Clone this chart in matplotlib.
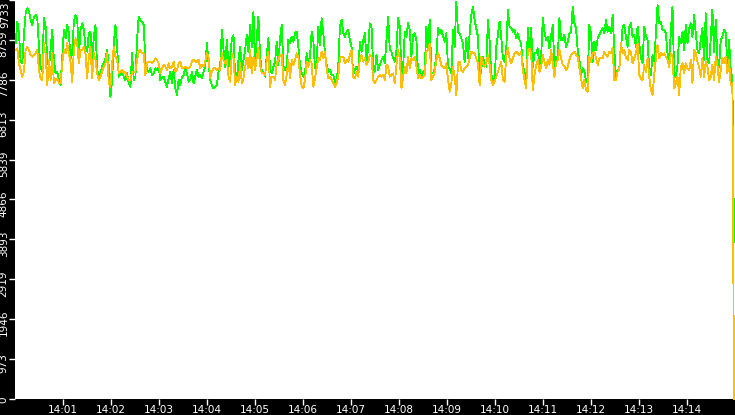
import matplotlib
matplotlib.use("Agg")
import matplotlib.pyplot as plt
import matplotlib.dates as mdates
import matplotlib.transforms as mtransforms
import numpy as np
import datetime as dt

# ---- data ----
start_time = dt.datetime(2024, 1, 1, 14, 0, 0)
end_time = dt.datetime(2024, 1, 1, 14, 15, 0)
sample_step_s = 2.0786
first_offset_s = 0.83

green_values = [
    8676, 9205, 8920, 8229, 8188, 8920, 9408, 9530, 9448, 9245, 9123, 9326, 9367, 9286, 8595, 8107, 7985, 9286, 9083, 8270, 8107, 8514, 9001, 8270, 7944, 7985, 7782, 7660, 8351, 9001, 8798, 9123, 8920, 8310, 8432, 9205, 9367, 9286, 8351, 9001, 9164, 9001, 8595, 8473, 8920, 8961, 8229, 8839, 9123, 8026, 7863, 7944, 8107, 8188, 8310, 8514, 8107, 7375, 7782, 8676, 9123, 8595, 7863, 7904, 7985, 7863, 7782, 7944, 7701, 7619, 8432, 7782, 7863,
    8757, 9326, 9245, 9205, 9123, 8229, 8026, 7985, 8066, 7904, 7944, 8066, 8026, 8107, 7782, 7822, 7863, 7741, 7619, 7822, 7985, 7701, 8026, 7579, 7416, 7782, 7660, 7863, 7904, 8066, 7944, 7741, 7782, 7985, 7701, 7863, 8026, 7863, 7904, 7822, 7985, 8107, 8676, 8188, 7782, 7660, 7579, 7619, 7660, 7985, 8107, 9001, 8514, 8107, 8757, 8107, 8270, 8798, 8879, 7822, 7782, 8270, 8595, 8026, 8270, 8514, 8879, 8473, 9123, 8595, 9448, 8107,
    8839, 9326, 8351, 7985, 7985, 7863, 8392, 8798, 8026, 7944, 8107, 8229, 8717, 8148, 8798, 9123, 8107, 8026, 8107, 8757, 8676, 8839, 8717, 8920, 8961, 8595, 8148, 7944, 7863, 7944, 8432, 8188, 8351, 8961, 8757, 8066, 8188, 9083, 8635, 9286, 8920, 8432, 8148, 7985, 8026, 7904, 7904, 7741, 7782, 8107, 9083, 9245, 8920, 8839, 8961, 9001, 8757, 8595, 7904, 8026, 8107, 7985, 8717, 8473, 8757, 8920, 8270, 8554, 9164, 9083, 8107, 7985,
    8392, 8026, 8148, 8270, 8351, 8188, 8757, 9326, 8514, 8473, 8310, 8229, 8514, 9286, 9083, 7944, 8066, 8961, 8839, 9164, 9001, 8351, 8879, 8920, 8757, 7944, 8026, 7863, 7985, 8026, 9083, 8595, 9245, 7944, 7944, 8066, 8392, 9042, 8920, 9001, 8839, 8717, 8920, 8107, 8066, 7944, 9001, 8595, 9692, 8961, 8920, 8798, 8676, 8229, 8798, 8310, 8920, 9367, 9570, 9245, 9042, 8839, 7782, 8066, 8351, 8148, 8107, 9245, 8757, 7904, 7782, 7782,
    8595, 8879, 9205, 8839, 8310, 8229, 8514, 9489, 9083, 9042, 8961, 9001, 8798, 8920, 8757, 8676, 8107, 7985, 7741, 9042, 8514, 9042, 8107, 8432, 8432, 8554, 8107, 8351, 9286, 8961, 8757, 8839, 8554, 8879, 9123, 8107, 8351, 8310, 9286, 8757, 8757, 8879, 8595, 8717, 8920, 8961, 9570, 9164, 9042, 8514, 8270, 7904, 8066, 7985, 7741, 7822, 9123, 8920, 8229, 8717, 8514, 8798, 8879, 8961, 9042, 8920, 9245, 8961, 9083, 8920, 9367, 8514,
    7863, 8026, 8066, 8554, 9083, 9123, 8839, 8595, 9083, 9164, 8839, 8879, 8595, 9083, 8676, 8310, 8188, 9083, 8839, 8757, 8026, 7904, 8392, 8229, 8920, 9611, 9164, 9205, 9001, 9001, 8920, 8432, 8188, 8961, 9570, 7904, 7863, 8148, 8839, 8676, 8961, 8514, 9123, 8676, 9042, 9164, 8839, 9367, 8920, 8514, 8432, 8757, 9042, 8270, 9408, 8270, 8188, 8798, 9489, 8473, 9245, 8310, 8107, 8757, 8839, 9001, 8920, 8148, 8757, 8026, 7822,
    3830,
]

orange_values = [
    8514, 8554, 8188, 8026, 7863, 7985, 8514, 8595, 8514, 8392, 8351, 8392, 8432, 8514, 8026, 7822, 7782, 8676, 8432, 7660, 8270, 7782, 8432, 7701, 7782, 7822, 7701, 7701, 8188, 8514, 8432, 8676, 8432, 8229, 7741, 8514, 8798, 8676, 8188, 8514, 8514, 8595, 8432, 7822, 8351, 8595, 7822, 8432, 8270, 7944, 7782, 7863, 7985, 8107, 8188, 8432, 7701, 7619, 8188, 8595, 8351, 8270, 7944, 7985, 8026, 7944, 7985, 7863, 7782, 7782, 7985, 7985, 7985,
    8270, 8473, 8514, 8432, 8432, 7904, 8188, 8229, 8229, 8188, 8229, 8310, 8270, 8188, 7944, 8066, 8148, 8107, 8026, 8188, 8066, 8107, 8229, 7985, 8026, 8188, 8229, 8066, 8066, 8107, 8066, 8066, 8107, 8229, 8270, 8229, 8229, 8270, 8066, 8148, 8107, 8229, 8432, 8351, 7822, 7985, 8066, 8066, 8026, 8066, 8026, 8432, 8270, 8188, 8270, 7863, 7741, 8432, 8351, 7660, 7863, 7741, 8188, 7701, 7822, 8107, 8310, 8066, 8514, 7944, 8351, 8026,
    8351, 8554, 8148, 7944, 7944, 7904, 8270, 8473, 7619, 7863, 7863, 7782, 8188, 8270, 8392, 8392, 7782, 7660, 7904, 8270, 7822, 8270, 8148, 8270, 8432, 8351, 7904, 7619, 7579, 7782, 8229, 8107, 8270, 8188, 7619, 7822, 8066, 8310, 8270, 8473, 8310, 8473, 8066, 7822, 7863, 7782, 7701, 7619, 7701, 7863, 8310, 8351, 8351, 8188, 8270, 8229, 8392, 8514, 7863, 7822, 7985, 7863, 8310, 8392, 8229, 8310, 8148, 8229, 8392, 8351, 7782, 7701,
    7782, 7863, 7904, 7863, 7904, 7782, 8148, 8107, 7863, 7904, 7944, 7701, 8148, 8514, 8310, 7579, 7863, 8107, 7944, 8351, 8066, 8310, 8270, 8351, 8107, 7822, 7904, 7822, 7863, 7904, 8473, 8514, 8676, 7782, 7863, 7985, 8270, 8432, 8310, 8148, 8107, 8066, 8188, 7782, 7497, 7701, 8107, 7863, 7416, 8188, 8229, 8026, 7985, 8066, 8107, 8148, 8310, 8473, 8432, 8432, 8310, 8188, 7660, 8351, 8188, 8107, 8188, 8392, 8148, 7782, 7660, 7741,
    7863, 7985, 8107, 8229, 7782, 7741, 8351, 8554, 8310, 8188, 8310, 8432, 8473, 8432, 8392, 8473, 8026, 7782, 7579, 8514, 8554, 8432, 7538, 7904, 8148, 8270, 7985, 8107, 8392, 8229, 8066, 8270, 8148, 8514, 8188, 7863, 8229, 8270, 8514, 8310, 8148, 8107, 8026, 8107, 8270, 8392, 8432, 8473, 8392, 8351, 8066, 7822, 7579, 7782, 7538, 7497, 8351, 8229, 8432, 8473, 8310, 8148, 8310, 8310, 8310, 8473, 8392, 8351, 8473, 8432, 8554, 7782,
    7782, 7985, 8026, 8676, 8432, 8514, 8310, 8270, 8514, 8473, 8188, 8310, 8432, 8676, 7904, 7822, 7782, 8148, 7985, 8310, 7863, 7538, 7416, 7904, 8310, 8635, 8310, 8432, 8392, 8432, 8351, 8270, 8107, 8432, 8351, 7579, 7701, 7863, 7416, 8107, 8188, 7944, 8188, 8066, 8026, 8270, 7701, 8514, 8432, 8229, 8107, 7863, 8310, 7863, 8229, 8107, 7782, 7863, 8148, 7782, 8351, 8148, 7741, 8026, 8310, 8188, 8351, 7944, 8270, 7660, 7701,
    0,
]

y_max = 9733
y_tick_labels = ["0", "973", "1946", "2919", "3893", "4866", "5839", "6813", "7786", "8759", "9733"]
x_tick_minutes = list(range(1, 15))

# ---- build times ----
n = len(green_values)
times = [start_time + dt.timedelta(seconds=first_offset_s + i * sample_step_s) for i in range(n)]

# ---- figure ----
W, H = 735, 415
fig = plt.figure(figsize=(W / 100, H / 100), dpi=100, facecolor="black")
ax = fig.add_axes([15 / W, 16 / H, 720 / W, 399 / H])
ax.set_facecolor("white")
for s in ax.spines.values():
    s.set_visible(False)

ax.plot(times, green_values, color="#00FF00", lw=0.6, antialiased=False, zorder=2, clip_on=False)
ax.plot(times, orange_values, color="#FFBF00", lw=0.6, antialiased=False, zorder=3, clip_on=False)

ax.set_xlim(start_time, end_time)
ax.set_ylim(0, y_max)

yt = [y_max * i / 10 for i in range(11)]
ax.set_yticks(yt)
ax.set_yticklabels(y_tick_labels)
ax.set_xticks([start_time + dt.timedelta(minutes=m) for m in x_tick_minutes])
ax.xaxis.set_major_formatter(mdates.DateFormatter("%H:%M"))

ax.tick_params(axis="both", colors="white", labelcolor="white", labelsize=7.5,
               length=4, width=1, direction="out")
ax.tick_params(axis="x", pad=0.5)
ax.tick_params(axis="y", pad=0.5)

offset = mtransforms.ScaledTranslation(0, -4 / 100, fig.dpi_scale_trans)
labs = ax.get_yticklabels()
for i, lab in enumerate(labs):
    lab.set_rotation(90)
    lab.set_va("center")
    lab.set_transform(lab.get_transform() + offset)
labs[-1].set_va("top")
labs[-1].set_transform(ax.get_yaxis_transform() + mtransforms.ScaledTranslation(-5 / 100, -2 / 100, fig.dpi_scale_trans))
labs[-1].set_ha("right")
labs[0].set_va("bottom")

fig.savefig("out.png", dpi=100, facecolor="black")
